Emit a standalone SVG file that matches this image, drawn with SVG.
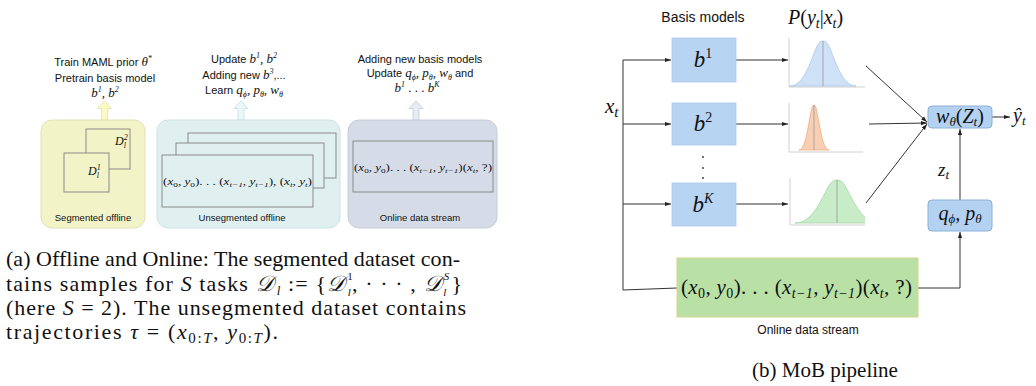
<svg xmlns="http://www.w3.org/2000/svg" width="1036" height="386" viewBox="0 0 1036 386">
<defs>
<style>
.sans{font-family:"Liberation Sans",Arial,sans-serif;fill:#111}
.ser{font-family:"Liberation Serif","Times New Roman",serif;fill:#111}
.mi{font-family:"Liberation Serif","DejaVu Serif",serif;font-style:italic;fill:#111}
.up{font-style:normal}
.ln{stroke:#333;stroke-width:1;fill:none}
.blk{fill:#b7d4f2;stroke:#aac8e8;stroke-width:0.8}
.rbox{fill:#b3d2f1;stroke:#8cb2d8;stroke-width:1}
.inner{stroke:#8a8a8a;stroke-width:1}
.axis{stroke:#d0d0d0;stroke-width:1;fill:none}
.mid{stroke:#9a9a9a;stroke-width:0.8}
</style>
<marker id="ah" viewBox="0 0 10 10" refX="10" refY="5" markerUnits="userSpaceOnUse" markerWidth="6" markerHeight="6" orient="auto"><path d="M0,1.5 L10,5 L0,8.5 Z" fill="#222"/></marker>
<clipPath id="c3"><rect x="789" y="175" width="76" height="50"/></clipPath>
</defs>
<rect width="1036" height="386" fill="#fff"/>

<!-- ===== (a) left panel ===== -->
<g id="seg-task-text">
<text class="sans" font-size="11" x="103" y="66" text-anchor="middle">Train MAML prior <tspan class="mi" font-size="13">θ</tspan><tspan class="mi" font-size="8" dy="-5">*</tspan></text>
<text class="sans" font-size="11" x="105" y="82" text-anchor="middle">Pretrain basis model</text>
<text class="mi" font-size="13" x="105" y="97" text-anchor="middle">b<tspan font-size="8" dy="-5">1</tspan><tspan dy="5">, b</tspan><tspan font-size="8" dy="-5">2</tspan></text>
</g>
<g id="unseg-task-text">
<text class="sans" font-size="11" x="244" y="63" text-anchor="middle">Update <tspan class="mi" font-size="13">b</tspan><tspan class="mi" font-size="8" dy="-5">1</tspan><tspan class="mi" font-size="13" dy="5">, b</tspan><tspan class="mi" font-size="8" dy="-5">2</tspan></text>
<text class="sans" font-size="11" x="244" y="79" text-anchor="middle">Adding new <tspan class="mi" font-size="13">b</tspan><tspan class="mi" font-size="8" dy="-5">3</tspan><tspan dy="5">,...</tspan></text>
<text class="sans" font-size="11" x="244" y="94" text-anchor="middle">Learn <tspan class="mi" font-size="13">q</tspan><tspan class="mi" font-size="8" dy="3">ϕ</tspan><tspan class="mi" font-size="13" dy="-3">, p</tspan><tspan class="mi" font-size="8" dy="3">θ</tspan><tspan class="mi" font-size="13" dy="-3">, w</tspan><tspan class="mi" font-size="8" dy="3">θ</tspan></text>
</g>
<g id="online-task-text">
<text class="sans" font-size="11" x="420" y="63" text-anchor="middle">Adding new basis models</text>
<text class="sans" font-size="11" x="420" y="77" text-anchor="middle">Update <tspan class="mi" font-size="13">q</tspan><tspan class="mi" font-size="8" dy="3">ϕ</tspan><tspan class="mi" font-size="13" dy="-3">, p</tspan><tspan class="mi" font-size="8" dy="3">θ</tspan><tspan class="mi" font-size="13" dy="-3">, w</tspan><tspan class="mi" font-size="8" dy="3">θ</tspan><tspan dy="-3"> and</tspan></text>
<text class="mi" font-size="13" x="417" y="92" text-anchor="middle">b<tspan font-size="8" dy="-5">1</tspan><tspan class="up" dy="5"> . . . </tspan><tspan>b</tspan><tspan font-size="8" dy="-5">K</tspan></text>
</g>

<g id="up-arrows">
<path d="M101.5,120 V108.5 H97.5 L104.5,101 L111.5,108.5 H107.5 V120 Z" fill="#fafac2" stroke="#e2e2a6" stroke-width="0.8"/>
<path d="M238,120 V108.5 H234 L241,101 L248,108.5 H244 V120 Z" fill="#eaf8fa" stroke="#c2dfe3" stroke-width="0.8"/>
<path d="M413,120 V108.5 H409 L416,101 L423,108.5 H419 V120 Z" fill="#e6ebf4" stroke="#c3cad8" stroke-width="0.8"/>
</g>

<g id="segmented-offline">
<rect x="41" y="120" width="104" height="108" rx="11" fill="#f3f3c8" stroke="#e2e2b6"/>
<rect x="86" y="129" width="44" height="40" class="inner" fill="#f3f3c8"/>
<rect x="64" y="153" width="45" height="39" class="inner" fill="#f3f3c8"/>
<text class="mi" font-size="12" x="115" y="145">D<tspan font-size="8" dy="-5">2</tspan><tspan font-size="8" dx="-4" dy="8">l</tspan></text>
<text class="mi" font-size="12" x="88" y="175">D<tspan font-size="8" dy="-5">1</tspan><tspan font-size="8" dx="-4" dy="8">l</tspan></text>
<text class="sans" font-size="9.5" x="93" y="221" text-anchor="middle">Segmented offline</text>
</g>

<g id="unsegmented-offline">
<rect x="157" y="120" width="183" height="108" rx="11" fill="#e0f0f1" stroke="#cde1e4"/>
<rect x="188" y="133" width="148" height="45" class="inner" fill="#e0f0f1"/>
<rect x="176" y="143" width="148" height="45" class="inner" fill="#e0f0f1"/>
<rect x="162" y="155" width="151" height="52" class="inner" fill="#e0f0f1"/>
<text class="mi" font-size="10" x="163" y="185" textLength="149" lengthAdjust="spacingAndGlyphs"><tspan class="up">(</tspan>x<tspan font-size="7" class="up" dy="2">0</tspan><tspan dy="-2">, y</tspan><tspan font-size="7" class="up" dy="2">0</tspan><tspan class="up" dy="-2">). . . (</tspan>x<tspan font-size="7" dy="2">t−1</tspan><tspan dy="-2">, y</tspan><tspan font-size="7" dy="2">t−1</tspan><tspan class="up" dy="-2">), (</tspan>x<tspan font-size="7" dy="2">t</tspan><tspan dy="-2">, y</tspan><tspan font-size="7" dy="2">t</tspan><tspan class="up" dy="-2">)</tspan></text>
<text class="sans" font-size="9.5" x="242" y="221" text-anchor="middle">Unsegmented offline</text>
</g>

<g id="online-stream-a">
<rect x="348" y="120" width="149" height="108" rx="11" fill="#d6dce7" stroke="#c6ccd8"/>
<rect x="353" y="141" width="140" height="51" class="inner" fill="#d6dce7"/>
<text class="mi" font-size="10" x="354" y="171" textLength="138" lengthAdjust="spacingAndGlyphs"><tspan class="up">(</tspan>x<tspan font-size="7" class="up" dy="2">0</tspan><tspan dy="-2">, y</tspan><tspan font-size="7" class="up" dy="2">0</tspan><tspan class="up" dy="-2">). . . (</tspan>x<tspan font-size="7" dy="2">t−1</tspan><tspan dy="-2">, y</tspan><tspan font-size="7" dy="2">t−1</tspan><tspan class="up" dy="-2">)(</tspan>x<tspan font-size="7" dy="2">t</tspan><tspan dy="-2">, </tspan><tspan class="up">?)</tspan></text>
<text class="sans" font-size="9.5" x="420" y="221" text-anchor="middle">Online data stream</text>
</g>

<g id="caption-a">
<text class="ser" font-size="22" x="6" y="266" textLength="454" lengthAdjust="spacing">(a) Offline and Online: The segmented dataset con-</text>
<text class="ser" font-size="22" x="6" y="291" textLength="456" lengthAdjust="spacing">tains samples for <tspan class="mi">S</tspan> tasks <tspan class="mi">𝒟</tspan><tspan class="mi" font-size="13" dx="2" dy="4">l</tspan><tspan dy="-4"> := {</tspan><tspan class="mi">𝒟</tspan><tspan font-size="11" dx="1" dy="-11">1</tspan><tspan class="mi" font-size="11" dx="-6" dy="16">l</tspan><tspan dy="-5">, · · · , </tspan><tspan class="mi">𝒟</tspan><tspan class="mi" font-size="11" dx="1" dy="-11">S</tspan><tspan class="mi" font-size="11" dx="-7" dy="16">l</tspan><tspan dx="4" dy="-5">}</tspan></text>
<text class="ser" font-size="22" x="6" y="315" textLength="460" lengthAdjust="spacing">(here <tspan class="mi">S</tspan> = 2). The unsegmented dataset contains</text>
<text class="ser" font-size="22" x="6" y="339" textLength="272" lengthAdjust="spacing">trajectories <tspan class="mi">τ</tspan> = (<tspan class="mi">x</tspan><tspan font-size="15" dy="4">0:<tspan class="mi">T</tspan></tspan><tspan dy="-4">, </tspan><tspan class="mi">y</tspan><tspan font-size="15" dy="4">0:<tspan class="mi">T</tspan></tspan><tspan dy="-4">).</tspan></text>
</g>

<!-- ===== (b) right panel ===== -->
<g id="headers">
<text class="sans" font-size="14" x="703" y="22" text-anchor="middle">Basis models</text>
<text class="mi" font-size="20" x="788" y="24">P<tspan class="up">(</tspan>y<tspan font-size="14" dy="4">t</tspan><tspan class="up" dy="-4">|</tspan>x<tspan font-size="14" dy="4">t</tspan><tspan class="up" dy="-4">)</tspan></text>
<text class="mi" font-size="21" x="605" y="113">x<tspan font-size="15" dy="4">t</tspan></text>
</g>

<g id="connectors">
<path class="ln" d="M623,60 V290 L677,288"/>
<line class="ln" x1="623" y1="60" x2="671" y2="60" marker-end="url(#ah)"/>
<line class="ln" x1="623" y1="124" x2="671" y2="124" marker-end="url(#ah)"/>
<line class="ln" x1="623" y1="204" x2="671" y2="204" marker-end="url(#ah)"/>
<line class="ln" x1="736" y1="60" x2="788" y2="60" marker-end="url(#ah)"/>
<line class="ln" x1="736" y1="124" x2="788" y2="124" marker-end="url(#ah)"/>
<line class="ln" x1="736" y1="204" x2="788" y2="204" marker-end="url(#ah)"/>
<line class="ln" x1="866" y1="66" x2="927" y2="122" marker-end="url(#ah)"/>
<line class="ln" x1="869" y1="124" x2="927" y2="123" marker-end="url(#ah)"/>
<line class="ln" x1="866" y1="203" x2="927" y2="124" marker-end="url(#ah)"/>
<line class="ln" x1="960" y1="200" x2="960" y2="129" marker-end="url(#ah)"/>
<path class="ln" d="M918,288 H960 V232" marker-end="url(#ah)"/>
<line class="ln" x1="992" y1="117" x2="1010" y2="117" marker-end="url(#ah)"/>
</g>

<g id="b1">
<rect class="blk" x="672" y="38" width="64" height="44"/>
<text class="mi" font-size="23" x="703" y="67" text-anchor="middle">b<tspan class="up" font-size="14" dy="-9">1</tspan></text>
</g>
<g id="b2">
<rect class="blk" x="672" y="103" width="64" height="42"/>
<text class="mi" font-size="23" x="703" y="131" text-anchor="middle">b<tspan class="up" font-size="14" dy="-9">2</tspan></text>
</g>
<g id="dots">
<circle cx="703" cy="157" r="0.9" fill="#333"/>
<circle cx="703" cy="168" r="0.9" fill="#333"/>
<circle cx="703" cy="178" r="0.9" fill="#333"/>
</g>
<g id="bK">
<rect class="blk" x="672" y="183" width="64" height="43"/>
<text class="mi" font-size="23" x="703" y="212" text-anchor="middle">b<tspan font-size="14" dy="-9">K</tspan></text>
</g>

<g id="dist1">
<path class="axis" d="M789,38 V87 H865"/>
<path d="M790,86 C801,86 807.6,69.6 812,58.7 C816.4,47.7 818,41 823,41 C828,41 829.6,47.7 834,58.7 C838.4,69.6 845,86 856,86 Z" fill="#cfe1f6" stroke="#a9c6ea" stroke-width="0.8"/>
<line class="mid" x1="823" y1="41" x2="823" y2="86"/>
</g>
<g id="dist2">
<path class="axis" d="M789,103 V152 H863"/>
<path d="M799,150 C804,150 807,133.6 809,122.7 C811,111.8 811.8,105 814,105 C816.2,105 817,111.8 819,122.7 C821,133.6 824,150 829,150 Z" fill="#f8cfb2" stroke="#e8ae88" stroke-width="0.8"/>
<line class="mid" x1="814" y1="105" x2="814" y2="150"/>
</g>
<g id="dist3">
<path class="axis" d="M790,178 V225 H865"/>
<path clip-path="url(#c3)" d="M795,223 C809,223 817.4,207.4 823,196.9 C828.6,186.5 830.7,180 837,180 C843.3,180 845.4,186.5 851,196.9 C856.6,207.4 865,223 879,223 Z" fill="#c8ecc8" stroke="#a2d8a2" stroke-width="0.8"/>
<line class="mid" x1="837" y1="180" x2="837" y2="223"/>
</g>

<g id="w-node">
<rect class="rbox" x="928" y="106" width="64" height="22" rx="4"/>
<text class="mi" font-size="20" x="960" y="123" text-anchor="middle">w<tspan font-size="13" dy="3">θ</tspan><tspan class="up" dy="-3">(</tspan>Z<tspan font-size="13" dy="3">t</tspan><tspan class="up" dy="-3">)</tspan></text>
</g>
<g id="q-node">
<rect class="rbox" x="928" y="200" width="64" height="31" rx="4"/>
<text class="mi" font-size="20" x="960" y="220" text-anchor="middle">q<tspan font-size="13" dy="3">ϕ</tspan><tspan dy="-3">, p</tspan><tspan font-size="13" dy="3">θ</tspan></text>
</g>
<text class="mi" font-size="19" x="938" y="176">z<tspan font-size="13" dy="3">t</tspan></text>
<text class="mi" font-size="20" x="1013" y="122">ŷ<tspan font-size="13" dy="3">t</tspan></text>

<g id="online-stream-b">
<rect x="677" y="258" width="241" height="59" fill="#b9e0a5" stroke="#d8d68c"/>
<text class="mi" font-size="21" x="681" y="294" textLength="231" lengthAdjust="spacing"><tspan class="up">(</tspan>x<tspan class="up" font-size="14" dy="4">0</tspan><tspan dy="-4">, y</tspan><tspan class="up" font-size="14" dy="4">0</tspan><tspan class="up" dy="-4">). . . (</tspan>x<tspan font-size="14" dy="4">t−1</tspan><tspan dy="-4">, y</tspan><tspan font-size="14" dy="4">t−1</tspan><tspan class="up" dy="-4">)(</tspan>x<tspan font-size="14" dy="4">t</tspan><tspan dy="-4">, </tspan><tspan class="up">?)</tspan></text>
<text class="sans" font-size="12" x="808" y="334" text-anchor="middle">Online data stream</text>
</g>

<text class="ser" font-size="21" x="825" y="377" text-anchor="middle">(b) MoB pipeline</text>
</svg>
